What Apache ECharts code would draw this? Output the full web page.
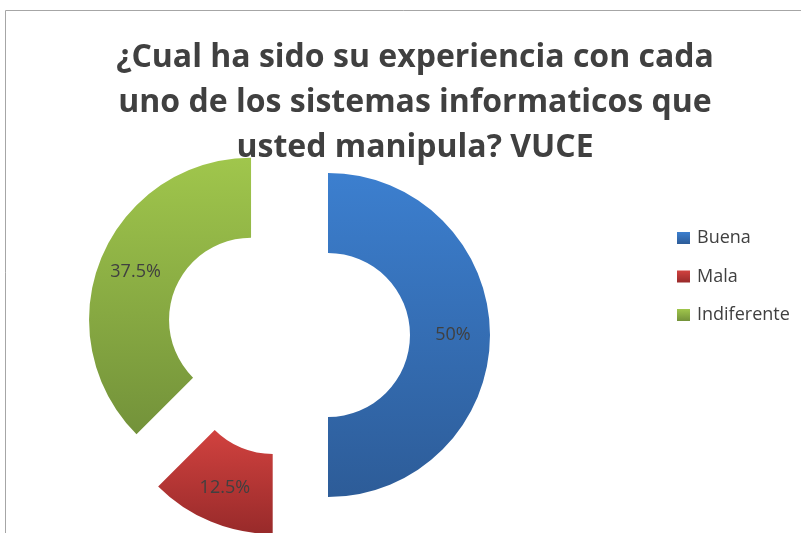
<!DOCTYPE html>
<html>
<head>
<meta charset="utf-8">
<script src="https://cdn.jsdelivr.net/npm/echarts@6/dist/echarts.min.js"></script>
<style>
html,body{margin:0;padding:0;background:#fff;}
#c{width:801px;height:533px;}
</style>
</head>
<body>
<div id="c"></div>
<script>
var categories = ['Buena', 'Mala', 'Indiferente'];
var values = [50, 12.5, 37.5];
var labels = ['50%', '12.5%', '37.5%'];
var titleLines = ['¿Cual ha sido su experiencia con cada', 'uno de los sistemas informaticos que', 'usted manipula? VUCE'];

var gradients = [
  ['#3c7fcf', '#2d5c98'],
  ['#d1423f', '#982a2a'],
  ['#a0c64c', '#73923a']
];

var chart = echarts.init(document.getElementById('c'), null, {renderer: 'canvas'});
var data = categories.map(function (name, i) {
  return {
    name: name,
    value: values[i],
    selected: true,
    label: {formatter: labels[i]},
    itemStyle: {
      color: new echarts.graphic.LinearGradient(0, 0, 0, 1, [
        {offset: 0, color: gradients[i][0]},
        {offset: 1, color: gradients[i][1]}
      ])
    }
  };
});

var font = '"Open Sans", sans-serif';

chart.setOption({
  animation: false,
  backgroundColor: '#ffffff',
  title: {
    text: titleLines.join('\n'),
    left: 410,
    textAlign: 'center',
    top: 30,
    textStyle: {
      fontFamily: font,
      fontWeight: 'bold',
      fontSize: 32,
      lineHeight: 45,
      color: '#404040'
    }
  },
  legend: {
    orient: 'vertical',
    left: 677,
    top: 229,
    padding: 0,
    itemWidth: 13,
    itemHeight: 12,
    itemGap: 20.5,
    icon: 'rect',
    selectedMode: false,
    textStyle: {
      fontFamily: font,
      fontSize: 18,
      color: '#404040',
      padding: [0, 0, 0, 2]
    },
    data: categories
  },
  graphic: [{
    type: 'rect',
    shape: {x: 5.5, y: 10.5, width: 1000, height: 1000},
    style: {fill: 'none', stroke: '#a6a6a6', lineWidth: 1},
    silent: true,
    z: 0
  }],
  series: [{
    type: 'pie',
    center: [288, 335],
    radius: [82, 162],
    startAngle: 90,
    clockwise: true,
    selectedMode: 'multiple',
    selectedOffset: 40,
    avoidLabelOverlap: false,
    label: {
      show: true,
      position: 'inside',
      fontFamily: font,
      fontSize: 18,
      color: '#404040'
    },
    labelLine: {show: false},
    emphasis: {disabled: true},
    data: data
  }]
});
</script>
</body>
</html>
